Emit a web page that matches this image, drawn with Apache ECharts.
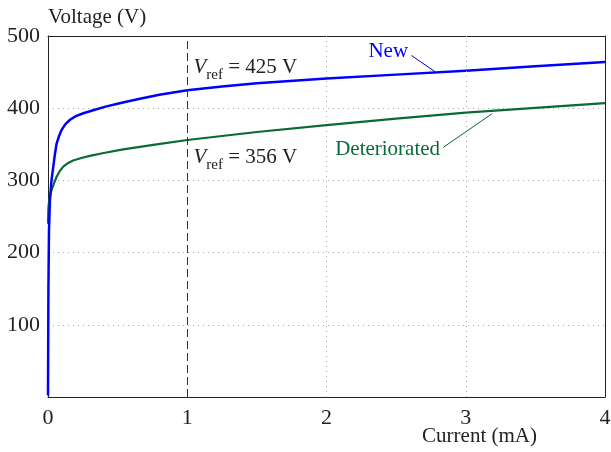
<!DOCTYPE html>
<html>
<head>
<meta charset="utf-8">
<script src="https://cdn.jsdelivr.net/npm/echarts@6/dist/echarts.min.js"></script>
<style>
  html, body { margin: 0; padding: 0; background: #fff; }
  #chart { width: 611px; height: 452px; }
</style>
</head>
<body>
<div id="chart"></div>
<script>
// Current–voltage characteristics (current in mA, voltage in V)
const currentNew = [0, 0.003, 0.007, 0.014, 0.025, 0.038, 0.05, 0.062, 0.08, 0.098, 0.125, 0.158, 0.2, 0.254, 0.33, 0.42, 0.53, 0.66, 0.8, 1, 1.25, 1.5, 2, 2.5, 3, 3.5, 4];
const voltageNew = [2, 150, 230, 273, 300, 319, 337, 351, 362, 370, 378, 384, 389, 393, 397.5, 402.5, 407.5, 413, 418.5, 425, 430, 434.5, 441, 446.5, 452, 458, 464];

const currentDet = [0, 0.003, 0.01, 0.026, 0.045, 0.062, 0.085, 0.11, 0.14, 0.18, 0.24, 0.3, 0.4, 0.54, 0.78, 1, 1.25, 1.5, 2, 2.5, 3, 3.5, 4];
const voltageDet = [240, 262, 275, 287, 297, 305, 313, 319, 323.5, 327.5, 331, 334, 338, 343, 350, 356, 361.5, 367, 376.5, 385.5, 394, 400.5, 407];

// Reference voltages read at 1 mA
const refCurrent = 1;
const refNew = 425;
const refDet = 356;

const xTicks = [0, 1, 2, 3, 4];
const yTicks = [0, 100, 200, 300, 400, 500];
const xGridAt = [2, 3];

const FONT = 'Liberation Serif';
const BLUE = '#0000ff';
const GREEN = '#0a6a36';
const INK = '#222';

const pairs = (xs, ys) => xs.map((x, i) => [x, ys[i]]);

const refLabel = (v) => ({
  show: true,
  position: 'right',
  distance: 0,
  color: INK,
  formatter: '{v|V}{s|ref}{t| = ' + v + ' V}',
  rich: {
    v: { fontFamily: FONT, fontSize: 21, fontStyle: 'italic', color: INK, verticalAlign: 'top', lineHeight: 23 },
    s: { fontFamily: FONT, fontSize: 15, color: INK, verticalAlign: 'top', lineHeight: 15, padding: [11, 0, 0, 0] },
    t: { fontFamily: FONT, fontSize: 21, color: INK, verticalAlign: 'top', lineHeight: 23 }
  }
});

const frameAxis = {
  axisLine: { show: true, onZero: false, lineStyle: { color: INK, width: 1 } },
  axisTick: { show: false }, axisLabel: { show: false }, splitLine: { show: false }
};

const chart = echarts.init(document.getElementById('chart'), null, { renderer: 'canvas' });

chart.setOption({
  animation: false,
  backgroundColor: '#fff',
  textStyle: { fontFamily: FONT },
  grid: { left: 48, right: 6, top: 36, bottom: 55, containLabel: false, outerBoundsMode: 'none' },
  graphic: [{
    type: 'text',
    right: 74,
    top: 426,
    silent: true,
    style: { text: 'Current (mA)', fontFamily: FONT, fontSize: 21, fill: INK }
  }],
  xAxis: [{
    type: 'value',
    min: xTicks[0], max: xTicks[xTicks.length - 1], interval: 1,
    axisLine: { show: true, onZero: false, lineStyle: { color: INK, width: 1 } },
    axisTick: { show: false },
    axisLabel: { fontFamily: FONT, fontSize: 22, color: INK, margin: 10 },
    splitLine: { show: false }
  }, Object.assign({
    type: 'value', position: 'top',
    min: xTicks[0], max: xTicks[xTicks.length - 1]
  }, frameAxis)],
  yAxis: [{
    type: 'value',
    min: yTicks[0], max: yTicks[yTicks.length - 1], interval: 100,
    name: 'Voltage (V)',
    nameLocation: 'end',
    nameGap: 8,
    nameTextStyle: { fontFamily: FONT, fontSize: 21, color: INK, align: 'left', verticalAlign: 'bottom' },
    axisLine: { show: true, onZero: false, lineStyle: { color: INK, width: 1 } },
    axisTick: { show: false },
    axisLabel: { fontFamily: FONT, fontSize: 22, color: INK, margin: 8, formatter: (v) => v === 0 ? '' : String(v) },
    splitLine: { show: true, lineStyle: { color: '#aaa', width: 1, type: [1, 4] } }
  }, Object.assign({
    type: 'value', position: 'right',
    min: yTicks[0], max: yTicks[yTicks.length - 1]
  }, frameAxis)],
  series: [{
    name: 'New',
    type: 'line',
    data: pairs(currentNew, voltageNew),
    smooth: false,
    showSymbol: false,
    z: 4,
    lineStyle: { color: BLUE, width: 2.5, join: 'round' },
    markLine: {
      silent: true,
      symbol: 'none',
      label: { show: false },
      data: [
        { xAxis: refCurrent, lineStyle: { color: '#333', width: 1, type: [8, 4] } },
        ...xGridAt.map((x) => ({ xAxis: x, lineStyle: { color: '#aaa', width: 1, type: [1, 4] } })),
        [
          { coord: [2.61, 473], lineStyle: { color: BLUE, width: 1, type: 'solid' } },
          { coord: [2.78, 450.5] }
        ]
      ]
    },
    markPoint: {
      silent: true,
      symbol: 'circle',
      symbolSize: 0,
      data: [
        {
          coord: [2.6, 478],
          label: { show: true, position: 'left', distance: 2, formatter: 'New', fontFamily: FONT, fontSize: 21, color: BLUE }
        },
        { coord: [refCurrent + 0.045, 455], label: refLabel(refNew) }
      ]
    }
  }, {
    name: 'Deteriorated',
    type: 'line',
    data: pairs(currentDet, voltageDet),
    smooth: false,
    showSymbol: false,
    z: 3,
    lineStyle: { color: GREEN, width: 2.2, join: 'round' },
    markLine: {
      silent: true,
      symbol: 'none',
      label: { show: false },
      data: [[
        { coord: [2.84, 346], lineStyle: { color: GREEN, width: 1, type: 'solid' } },
        { coord: [3.19, 392.5] }
      ]]
    },
    markPoint: {
      silent: true,
      symbol: 'circle',
      symbolSize: 0,
      data: [
        {
          coord: [2.83, 343],
          label: { show: true, position: 'left', distance: 2, formatter: 'Deteriorated', fontFamily: FONT, fontSize: 21, color: GREEN }
        },
        { coord: [refCurrent + 0.045, 331], label: refLabel(refDet) }
      ]
    }
  }]
});
</script>
</body>
</html>
